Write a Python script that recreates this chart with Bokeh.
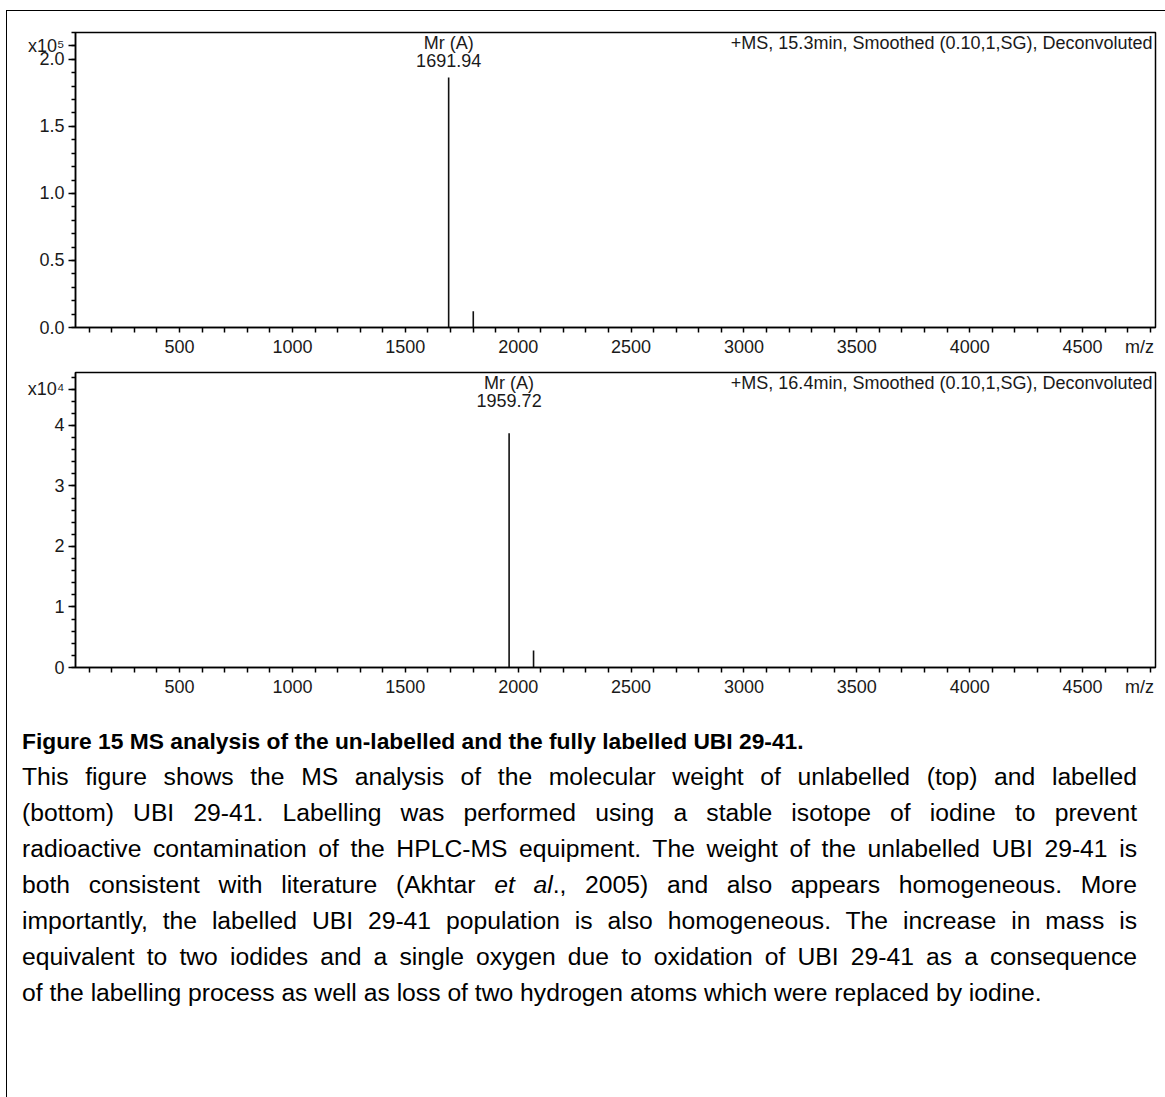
from bokeh.plotting import figure
from bokeh.models import FixedTicker, Label, Div
from bokeh.layouts import column
from bokeh.core.properties import value
from bokeh.embed import file_html
from bokeh.resources import INLINE

FONT = "Liberation Sans"

# Deconvoluted spectra (neutral mass, intensity in counts)
top_mz = [1691.94, 1801.0]
top_intensity = [186500, 12100]
bottom_mz = [1959.72, 2068.0]
bottom_intensity = [38700, 2800]

top_header = "+MS, 15.3min, Smoothed (0.10,1,SG), Deconvoluted"
bottom_header = "+MS, 16.4min, Smoothed (0.10,1,SG), Deconvoluted"
peak_name = "Mr (A)"

x_ticks = [500, 1000, 1500, 2000, 2500, 3000, 3500, 4000, 4500]
x_minor = list(range(100, 4900, 100))
x_unit = (4752, "m/z")   # unit written in the tick-label row

top_y_ticks = [0, 50000, 100000, 150000, 200000]
top_y_labels = ["0.0", "0.5", "1.0", "1.5", "2.0"]
top_y_minor = list(range(0, 230000, 10000))
top_scale = (210000, "x10\u2075")

bottom_y_ticks = [0, 10000, 20000, 30000, 40000]
bottom_y_labels = ["0", "1", "2", "3", "4"]
bottom_y_minor = list(range(0, 50000, 2000))
bottom_scale = (46000, "x10\u2074")

X_RANGE = (39, 4823)
TXT = "18px"
INK = "#1a1a1a"


def spectrum(mz, intensity, header, y_max, y_ticks, y_labels, y_minor,
             scale, border_top, border_bottom):
    p = figure(frame_width=1080, frame_height=295,
               x_range=X_RANGE, y_range=(0, y_max),
               output_backend="svg", toolbar_location=None,
               min_border_left=68, min_border_right=7,
               min_border_top=border_top, min_border_bottom=border_bottom,
               background_fill_color="white", border_fill_color="white",
               outline_line_color="black", outline_line_width=1.5)
    p.grid.visible = False

    # stick spectrum
    p.segment(x0=mz, y0=[0] * len(mz), x1=mz, y1=intensity,
              line_color="#111111", line_width=1.6)

    # annotation of the main peak
    p.text(x=[mz[0]], y=[y_max], text=[f"{peak_name}\n{mz[0]:.2f}"],
           text_font=value(FONT), text_font_size=TXT, text_color=INK,
           text_align="center", text_baseline="top", text_line_height=0.9)

    p.add_layout(Label(x=X_RANGE[1] - 13, y=y_max * 0.9995, text=header,
                       text_font=FONT, text_font_size=TXT,
                       text_color=INK, text_align="right",
                       text_baseline="top"))

    # mass axis: every 100 gets a short tick, labels every 500 plus the unit
    xa = p.xaxis[0]
    unit_pos, unit_text = x_unit
    xa.ticker = FixedTicker(ticks=x_ticks + [unit_pos], minor_ticks=x_minor)
    xa.major_label_overrides = {unit_pos: unit_text}
    xa.major_tick_line_color = None
    xa.major_tick_out = 5
    xa.minor_tick_out = 5
    xa.major_tick_in = 0
    xa.minor_tick_in = 0
    xa.minor_tick_line_color = "black"

    # intensity axis, with the scale factor written at its top
    ya = p.yaxis[0]
    scale_tick, scale_text = scale
    ya.ticker = FixedTicker(ticks=y_ticks + [scale_tick], minor_ticks=y_minor)
    overrides = dict(zip(y_ticks, y_labels))
    overrides[scale_tick] = scale_text
    ya.major_label_overrides = overrides
    ya.major_tick_out = 7
    ya.minor_tick_out = 4
    ya.major_tick_in = 0
    ya.minor_tick_in = 0
    ya.major_tick_line_color = "black"
    ya.minor_tick_line_color = "black"

    for ax in (xa, ya):
        ax.axis_line_color = "black"
        ax.axis_line_width = 1.5
        ax.major_tick_line_width = 1.5
        ax.minor_tick_line_width = 1.5
        ax.major_label_text_font = FONT
        ax.major_label_text_font_size = TXT
        ax.major_label_text_color = INK
        ax.major_label_standoff = 4
    return p


p1 = spectrum(top_mz, top_intensity, top_header, 220000,
              top_y_ticks, top_y_labels, top_y_minor, top_scale, 21, 40)
p2 = spectrum(bottom_mz, bottom_intensity, bottom_header, 48760,
              bottom_y_ticks, bottom_y_labels, bottom_y_minor, bottom_scale, 5, 40)

title = "Figure 15 MS analysis of the un-labelled and the fully labelled UBI 29-41."
body_lines = [
    "This figure shows the MS analysis of the molecular weight of unlabelled (top) and labelled",
    "(bottom) UBI 29-41. Labelling was performed using a stable isotope of iodine to prevent",
    "radioactive contamination of the HPLC-MS equipment. The weight of the unlabelled UBI 29-41 is",
    "both consistent with literature (Akhtar <i>et al</i>., 2005) and also appears homogeneous. More",
    "importantly, the labelled UBI 29-41 population is also homogeneous. The increase in mass is",
    "equivalent to two iodides and a single oxygen due to oxidation of UBI 29-41 as a consequence",
    "of the labelling process as well as loss of two hydrogen atoms which were replaced by iodine.",
]

line_css = ("height:36px;line-height:36px;white-space:nowrap;"
            "text-align:justify;text-align-last:justify;")
html = [f'<div style="font-family:\'{FONT}\';color:#000;width:1135px;'
        f'padding:11px 10px 0 10px;">']
html.append(f'<div style="height:36px;line-height:36px;font-weight:bold;'
            f'font-size:22.8px;">{title}</div>')
for i, line in enumerate(body_lines):
    css = line_css if i < len(body_lines) - 1 else "height:36px;line-height:36px;white-space:nowrap;"
    html.append(f'<div style="font-size:24.7px;{css}">{line}</div>')
html.append("</div>")

caption = Div(text="".join(html), width=1155, height=393)

layout = column(p1, p2, caption, margin=(10, 0, 0, 6),
                styles={"border": "1px solid black"})

open("out.html", "w").write(file_html(layout, INLINE))
